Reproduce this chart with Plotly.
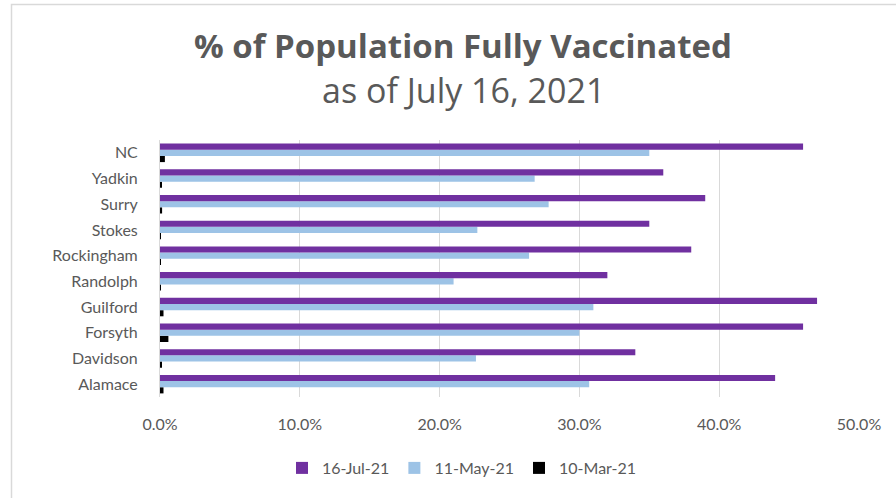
import plotly.graph_objects as go

# Data (percent of population fully vaccinated)
counties = ["Alamace", "Davidson", "Forsyth", "Guilford", "Randolph",
            "Rockingham", "Stokes", "Surry", "Yadkin", "NC"]
jul_16_21 = [44.0, 34.0, 46.0, 47.0, 32.0, 38.0, 35.0, 39.0, 36.0, 46.0]
may_11_21 = [30.7, 22.6, 30.0, 31.0, 21.0, 26.4, 22.7, 27.8, 26.8, 35.0]
mar_10_21 = [0.25, 0.08, 0.6, 0.25, 0.05, 0.06, 0.05, 0.15, 0.1, 0.35]
series_names = ["10-Mar-21", "11-May-21", "16-Jul-21"]
series_colors = ["#000000", "#9DC3E6", "#7030A0"]
x_ticks = [0, 10, 20, 30, 40, 50]

W, H = 896, 498
L, R, T, B = 160, 37, 140, 101
pw, ph = W - L - R, H - T - B

def px_x(x):
    return (x - L) / pw

def px_y(y):
    return (H - B - y) / ph

fig = go.Figure()
for name, vals, col in zip(series_names, [mar_10_21, may_11_21, jul_16_21], series_colors):
    fig.add_trace(go.Bar(
        y=counties, x=[v / 100 for v in vals], name=name, orientation="h",
        marker=dict(color=col, line=dict(width=0)),
    ))

font_family = "Lato, 'Open Sans', sans-serif"
title_family = "'Open Sans', sans-serif"
grey = "#595959"

fig.update_layout(
    width=W, height=H,
    margin=dict(l=L, r=R, t=T, b=B),
    paper_bgcolor="white", plot_bgcolor="white",
    barmode="group", bargap=0.28, bargroupgap=0,
    font=dict(family=font_family, color=grey, size=16),
    showlegend=True,
    legend=dict(orientation="h", traceorder="reversed", x=px_x(462), xanchor="center",
                y=px_y(468), yanchor="middle", font=dict(size=16, color=grey),
                itemwidth=30),
    xaxis=dict(range=[0, 0.5], tickvals=[v / 100 for v in x_ticks], tickformat=".1%",
               showgrid=True, gridcolor="#d9d9d9", gridwidth=1, zeroline=False,
               showline=False, ticks="", ticklabelstandoff=16,
               tickfont=dict(size=16, color=grey)),
    yaxis=dict(showgrid=False, showline=True, linecolor="#d9d9d9", linewidth=1,
               ticks="", ticklabelstandoff=18, tickfont=dict(size=16, color=grey)),
    annotations=[
        dict(text="<b>% of Population Fully Vaccinated</b>", xref="paper", yref="paper",
             x=px_x(463), y=px_y(46), xanchor="center", yanchor="middle", showarrow=False,
             font=dict(size=33, color=grey, family=title_family)),
        dict(text="as of July 16, 2021", xref="paper", yref="paper",
             x=px_x(463), y=px_y(90), xanchor="center", yanchor="middle", showarrow=False,
             font=dict(size=34, color=grey, family=title_family)),
    ],
    shapes=[
        dict(type="path", xref="paper", yref="paper",
             path=f"M {px_x(11.5)} {px_y(505)} L {px_x(11.5)} {px_y(4.5)} L {px_x(900)} {px_y(4.5)}",
             line=dict(color="#d9d9d9", width=1.5)),
    ],
)

fig.write_html("out.html")
